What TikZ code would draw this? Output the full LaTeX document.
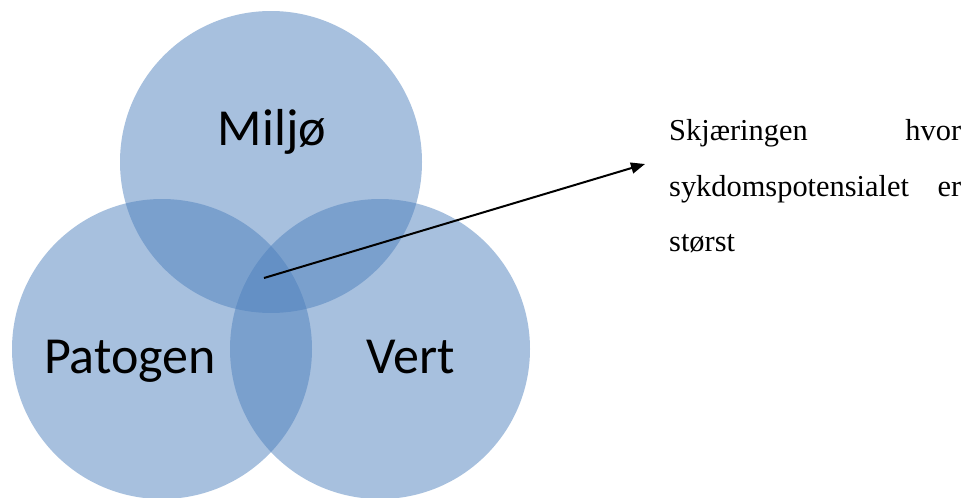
\documentclass[tikz,border=0pt]{standalone}
\usepackage{fontspec}
\setmainfont{Liberation Serif}
\newfontfamily\lblfont{Carlito}
\usetikzlibrary{arrows.meta}
\definecolor{vennblue}{RGB}{79,129,189}
\tikzset{
  venn/.style={fill=vennblue, fill opacity=0.5},
  setlabel/.style={anchor=base, inner sep=0pt, font=\lblfont\fontsize{52}{60}\selectfont},
  noteline/.style={anchor=base west, inner sep=0pt, font=\fontsize{30.4}{36}\selectfont},
  pointer/.style={line width=2pt, -{Triangle[length=14pt,width=11pt]}}
}
\begin{document}
\begin{tikzpicture}[x=1pt,y=-1pt]
\useasboundingbox (0,0) rectangle (967,498);
\begin{scope}
\clip (0,0) rectangle (967,498);
% the three sets
\fill[venn] (271,162) circle[radius=151pt];
\fill[venn] (162,349) circle[radius=150pt];
\fill[venn] (380,349) circle[radius=150pt];
\end{scope}
% set names
\node[setlabel] (miljo) at (272,145) {Miljø};
\node[setlabel] (patogen) at (130,373) {Patogen};
\node[setlabel] (vert) at (411,373) {Vert};
% explanation of the common intersection
\node[noteline] (note1) at (669,140) {\makebox[292pt][s]{Skjæringen hvor}};
\node[noteline] (note2) at (669,196) {\makebox[292pt][s]{sykdomspotensialet er}};
\node[noteline] (note3) at (669,251) {størst};
\coordinate (core) at (264,278);
\coordinate (tip) at (645,164);
\draw[pointer] (core) -- (tip);
\end{tikzpicture}
\end{document}
